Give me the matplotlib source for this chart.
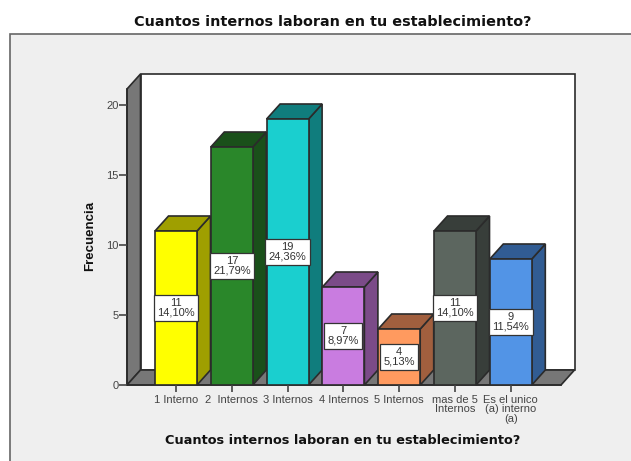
import matplotlib.pyplot as plt
from matplotlib.patches import Polygon, Rectangle

categories = ['1 Interno', '2  Internos', '3 Internos', '4 Internos', '5 Internos',
              'mas de 5\nInternos', 'Es el unico\n(a) interno\n(a)']
counts = [11, 17, 19, 7, 4, 11, 9]
percents = ['14,10%', '21,79%', '24,36%', '8,97%', '5,13%', '14,10%', '11,54%']
front_colors = ['#ffff00', '#2a872a', '#1acfcf', '#c97ce0', '#ff9a5f', '#5c665f', '#5294e6']
side_colors = ['#9f9f00', '#1a501a', '#107d7d', '#7b4b88', '#a15f3e', '#383e3a', '#315c93']
yticks = [0, 5, 10, 15, 20]

W, H = 631, 461
plt.rcParams['font.family'] = ['Liberation Sans', 'DejaVu Sans']
fig = plt.figure(figsize=(W / 100, H / 100), dpi=100, facecolor='white')

# grey panel, only left and top edges show
fig.patches.append(Rectangle((10 / W, -0.1), 1, 1.1 - 34 / H, transform=fig.transFigure,
                             fc='#efefef', ec='#666666', lw=1.2, zorder=-1))

ax = fig.add_axes([127 / W, 1 - 385 / H, (561 - 127) / W, (385 - 89) / H])
ax.patch.set_visible(False)
ax.set_xlim((127 - 176) / 55.8, (561 - 176) / 55.8)
ax.set_ylim(0, (385 - 89) / 14)

# depth offset of the 3d look, in data units
dx = 13.5 / 55.8
dy = 15 / 14
width = 42 / 55.8
x0, x1 = ax.get_xlim()
y1 = ax.get_ylim()[1]
edge = '#2b2b2b'

ax.add_patch(Polygon([(x0 + dx, dy), (x1 + dx, dy), (x1 + dx, y1 + dy), (x0 + dx, y1 + dy)],
                     fc='white', ec=edge, lw=1.2, clip_on=False, zorder=1))
ax.add_patch(Polygon([(x0, 0), (x0 + dx, dy), (x0 + dx, y1 + dy), (x0, y1)],
                     fc='#777777', ec=edge, lw=1.2, clip_on=False, zorder=1.1))
ax.add_patch(Polygon([(x0, 0), (x1, 0), (x1 + dx, dy), (x0 + dx, dy)],
                     fc='#777777', ec=edge, lw=1.2, clip_on=False, zorder=1.1))

for i, v in enumerate(counts):
    l, r = i - width / 2, i + width / 2
    ax.add_patch(Polygon([(r, 0), (r + dx, dy), (r + dx, v + dy), (r, v)],
                         fc=side_colors[i], ec=edge, lw=1.2, clip_on=False, zorder=2))
    ax.add_patch(Polygon([(l, v), (r, v), (r + dx, v + dy), (l + dx, v + dy)],
                         fc=side_colors[i], ec=edge, lw=1.2, clip_on=False, zorder=2))

ax.bar(range(len(counts)), counts, width=width, color=front_colors, edgecolor=edge,
       linewidth=1.2, zorder=3)

for i, v in enumerate(counts):
    ax.text(i, v / 2, f"{v}\n{percents[i]}", ha='center', va='center', fontsize=8,
            color='#333333', linespacing=0.95, zorder=4,
            bbox=dict(boxstyle='square,pad=0.3', fc='white', ec='#333333', lw=0.9))

for s in ['top', 'right']:
    ax.spines[s].set_visible(False)
for s in ['left', 'bottom']:
    ax.spines[s].set_color(edge)
    ax.spines[s].set_linewidth(1.2)
    ax.spines[s].set_zorder(1.2)

ax.set_yticks(yticks)
ax.set_xticks(range(len(categories)))
ax.set_xticklabels(categories, linespacing=0.95)
ax.tick_params(axis='x', labelsize=8, labelcolor='#444444', color='#444444',
               length=5, width=1.2, pad=2)
ax.tick_params(axis='y', labelsize=8, labelcolor='#444444', color='#444444',
               length=5.5, width=1.2, pad=0.5)

fig.text(333 / W, 1 - 22 / H, 'Cuantos internos laboran en tu establecimiento?',
         family='DejaVu Sans', fontweight='bold', fontsize=10.4, ha='center', va='center', color='#111111')
fig.text(343 / W, 1 - 440 / H, 'Cuantos internos laboran en tu establecimiento?',
         family='DejaVu Sans', fontweight='bold', fontsize=9.3, ha='center', va='center', color='#111111')
fig.text(90 / W, 1 - 236 / H, 'Frecuencia', rotation=90, fontweight='bold', fontsize=9.5,
         ha='center', va='center', color='#111111')

fig.savefig('out.png', dpi=100)
plt.close()
